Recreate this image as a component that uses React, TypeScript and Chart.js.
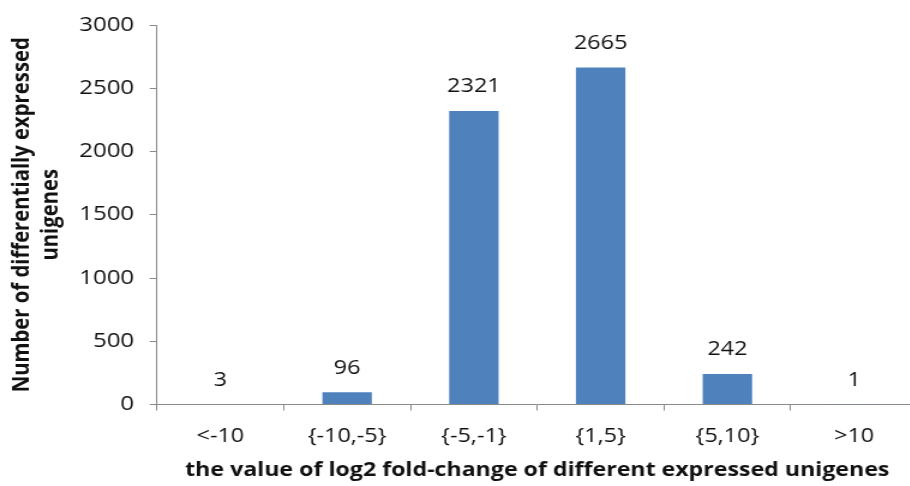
import React, { useEffect, useRef } from "react";
import { Chart, registerables } from "chart.js";

Chart.register(...registerables);

// Fold-change bins and the number of differentially expressed unigenes in each
const categories = ["<-10", "{-10,-5}", "{-5,-1}", "{1,5}", "{5,10}", ">10"];
const counts = [3, 96, 2321, 2665, 242, 1];
const yTicks = [0, 500, 1000, 1500, 2000, 2500, 3000];

const yTitle = ["Number of differentially expressed", "unigenes"];
const xTitle = "the value of log2 fold-change of different expressed unigenes";

const FONT = "'Open Sans', Lato, sans-serif";
const BAR = "#4F81BD";
const AXIS = "#8a8a8a";
const TEXT = "#111";

// drawing surface is rendered narrower and widened by CSS
const DRAW_W = 770;
const DRAW_H = 486;
const STRETCH = 1.2;

const valueLabels = {
  id: "valueLabels",
  afterDatasetsDraw(chart: any) {
    const { ctx } = chart;
    const meta = chart.getDatasetMeta(0);
    ctx.save();
    ctx.font = `19.5px ${FONT}`;
    ctx.fillStyle = TEXT;
    ctx.textAlign = "center";
    ctx.textBaseline = "middle";
    meta.data.forEach((bar: any, i: number) => {
      ctx.fillText(String(counts[i]), bar.x, bar.y - 24);
    });
    ctx.restore();
  },
};

export default function App() {
  const ref = useRef<HTMLCanvasElement | null>(null);

  useEffect(() => {
    if (!ref.current) return;
    const chart = new Chart(ref.current, {
      type: "bar",
      data: {
        labels: categories,
        datasets: [
          {
            data: counts,
            backgroundColor: BAR,
            borderWidth: 0,
            categoryPercentage: 1,
            barPercentage: 0.39,
          },
        ],
      },
      options: {
        animation: false,
        responsive: false,
        devicePixelRatio: 1,
        layout: { padding: { top: 21, right: 5.4, left: 0, bottom: 0 } },
        plugins: {
          legend: { display: false },
          tooltip: { enabled: false },
        },
        scales: {
          x: {
            afterFit: (s: any) => {
              s.height = 81.5;
            },
            grid: {
              drawOnChartArea: false,
              drawTicks: true,
              tickLength: 6,
              color: AXIS,
              offset: true,
            },
            border: { display: true, color: AXIS, width: 1 },
            ticks: {
              padding: 14,
              color: TEXT,
              font: { family: FONT, size: 19.5 },
            },
            title: {
              display: true,
              text: xTitle,
              color: TEXT,
              font: { family: FONT, size: 19.3, weight: "bold" },
              padding: { top: 0, bottom: 4 },
            },
          },
          y: {
            min: 0,
            max: 3000,
            afterFit: (s: any) => {
              s.width = 130.8;
            },
            afterBuildTicks: (s: any) => {
              s.ticks = yTicks.map((v) => ({ value: v }));
            },
            grid: {
              drawOnChartArea: false,
              drawTicks: true,
              tickLength: 6,
              color: AXIS,
            },
            border: { display: true, color: AXIS, width: 1 },
            ticks: {
              padding: 13,
              color: TEXT,
              font: { family: FONT, size: 20 },
              callback: (v: any) => String(v),
            },
            title: {
              display: true,
              text: yTitle,
              color: TEXT,
              font: { family: FONT, size: 20.3, weight: "bold", lineHeight: 1.2 },
              padding: { top: 6, bottom: 0 },
            },
          },
        },
      },
      plugins: [valueLabels],
    });
    return () => chart.destroy();
  }, []);

  return (
    <div
      style={{
        position: "absolute",
        left: 0,
        top: 0,
        width: 910,
        height: 486,
        overflow: "hidden",
        background: "#fff",
      }}
    >
      <canvas
        ref={ref}
        width={DRAW_W}
        height={DRAW_H}
        style={{ width: `${DRAW_W * STRETCH}px`, height: `${DRAW_H}px`, display: "block" }}
      />
    </div>
  );
}
